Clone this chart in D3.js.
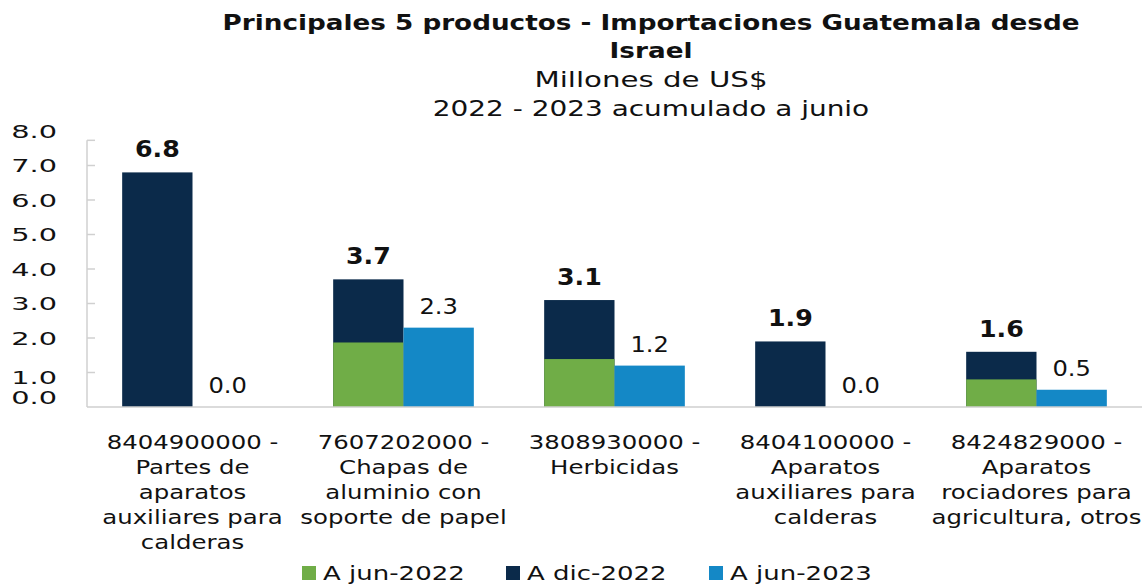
<!DOCTYPE html>
<html>
<head>
<meta charset="utf-8">
<script src="https://cdn.jsdelivr.net/npm/d3@7"></script>
<style>
  html, body { margin: 0; padding: 0; background: #ffffff; }
  svg { display: block; font-family: "DejaVu Sans", Verdana, sans-serif; }
</style>
</head>
<body>
<div id="chart"></div>
<script>
  // Values in millions of US$
  const categories = [
    ["8404900000 -", "Partes de", "aparatos", "auxiliares para", "calderas"],
    ["7607202000 -", "Chapas de", "aluminio con", "soporte de papel"],
    ["3808930000 -", "Herbicidas"],
    ["8404100000 -", "Aparatos", "auxiliares para", "calderas"],
    ["8424829000 -", "Aparatos", "rociadores para", "agricultura, otros"],
  ];
  const seriesNames = ["A jun-2022", "A dic-2022", "A jun-2023"];
  const jun2022 = [0, 1.87, 1.39, 0, 0.8];
  const dic2022 = [6.8, 3.7, 3.1, 1.9, 1.6];
  const jun2023 = [0, 2.3, 1.2, 0, 0.5];
  const yTicks = [0, 1, 2, 3, 4, 5, 6, 7, 8];
  const titleLines = ["Principales 5 productos - Importaciones Guatemala desde", "Israel"];
  const subtitleLines = ["Millones de US$", "2022 - 2023 acumulado a junio"];

  const colors = { green: "#70ad47", dark: "#0b2a4a", blue: "#1488c6" };
  const textColor = "#111111";
  const width = 1145;
  const height = 584;
  const margin = { top: 131, right: 3, bottom: 177, left: 87 };

  const svg = d3.select("#chart").append("svg").attr("width", width).attr("height", height);

  const keys = categories.map((c) => c[0]);
  const x = d3.scaleBand().domain(keys).range([margin.left, width - margin.right]).padding(0);
  const inner = d3.scaleBand().domain(["dec", "jun23"]).range([0, x.bandwidth()]).paddingOuter(0.5).paddingInner(0);
  const y = d3.scaleLinear().domain([0, 8]).range([height - margin.bottom, margin.top]);

  const rows = keys.map((k, i) => ({ key: k, jun22: jun2022[i], dec: dic2022[i], jun23: jun2023[i] }));

  // horizontally stretched text, like the source rendering
  function stretchText(g, tx, ty, sx, str) {
    return g.append("text")
      .attr("transform", `translate(${tx},${ty}) scale(${sx},1)`)
      .attr("fill", textColor)
      .text(str);
  }

  // titles
  const titleX = 651;
  titleLines.forEach((line, i) => {
    stretchText(svg, titleX, 30 + i * 28, 1.25, line)
      .attr("text-anchor", "middle").attr("font-size", 21).attr("font-weight", "bold");
  });
  subtitleLines.forEach((line, i) => {
    stretchText(svg, titleX, 87 + i * 29, i === 0 ? 1.33 : 1.27, line)
      .attr("text-anchor", "middle").attr("font-size", 22);
  });

  // y axis
  const axisTop = 7.73;
  svg.append("line")
    .attr("x1", margin.left).attr("x2", margin.left)
    .attr("y1", y(0)).attr("y2", y(axisTop))
    .attr("stroke", "#d0d0d0").attr("stroke-width", 1.5);
  svg.append("g")
    .selectAll("line")
    .data(yTicks.filter((t) => t > 0 && t < axisTop).concat([axisTop]))
    .join("line")
    .attr("x1", margin.left).attr("x2", margin.left + 8)
    .attr("y1", (d) => y(d)).attr("y2", (d) => y(d))
    .attr("stroke", "#d0d0d0").attr("stroke-width", 1.5);

  const labelNudge = { 0: -10, 1: 5 };
  const yLabels = svg.append("g");
  yTicks.forEach((t) => {
    stretchText(yLabels, 57, y(t) + (labelNudge[t] || 0) + 6.5, 1.6, d3.format(".1f")(t))
      .attr("text-anchor", "end").attr("font-size", 18);
  });

  // bars
  const groups = svg.append("g").selectAll("g").data(rows).join("g")
    .attr("transform", (d) => `translate(${x(d.key)},0)`);

  groups.append("rect")
    .attr("x", inner("dec")).attr("width", inner.bandwidth())
    .attr("y", (d) => y(d.dec)).attr("height", (d) => y(0) - y(d.dec))
    .attr("fill", colors.dark);
  groups.append("rect")
    .attr("x", inner("dec")).attr("width", inner.bandwidth())
    .attr("y", (d) => y(d.jun22)).attr("height", (d) => y(0) - y(d.jun22))
    .attr("fill", colors.green);
  groups.append("rect")
    .attr("x", inner("jun23")).attr("width", inner.bandwidth())
    .attr("y", (d) => y(d.jun23)).attr("height", (d) => y(0) - y(d.jun23))
    .attr("fill", colors.blue);

  groups.each(function (d) {
    const g = d3.select(this);
    stretchText(g, inner("dec") + inner.bandwidth() / 2, y(d.dec) - 15, 1.1, d3.format(".1f")(d.dec))
      .attr("text-anchor", "middle").attr("font-size", 23).attr("font-weight", "bold");
    stretchText(g, inner("jun23") + inner.bandwidth() / 2, y(d.jun23) - 14, 1.1, d3.format(".1f")(d.jun23))
      .attr("text-anchor", "middle").attr("font-size", 22);
  });

  // baseline
  svg.append("line")
    .attr("x1", margin.left).attr("x2", width - margin.right)
    .attr("y1", y(0)).attr("y2", y(0))
    .attr("stroke", "#cfcfcf").attr("stroke-width", 1.5);

  // category labels
  categories.forEach((lines, i) => {
    const cx = x(keys[i]) + x.bandwidth() / 2;
    lines.forEach((line, j) => {
      stretchText(svg, cx, y(0) + 42 + j * 25, 1.22, line)
        .attr("text-anchor", "middle").attr("font-size", 20);
    });
  });

  // legend
  const legendItems = [
    { label: seriesNames[0], color: colors.green, x: 302 },
    { label: seriesNames[1], color: colors.dark, x: 506 },
    { label: seriesNames[2], color: colors.blue, x: 709 },
  ];
  const legend = svg.append("g");
  legendItems.forEach((item) => {
    legend.append("rect")
      .attr("x", item.x).attr("y", 566).attr("width", 14).attr("height", 14)
      .attr("fill", item.color);
    stretchText(legend, item.x + 21, 580, 1.3, item.label).attr("font-size", 20);
  });
</script>
</body>
</html>
